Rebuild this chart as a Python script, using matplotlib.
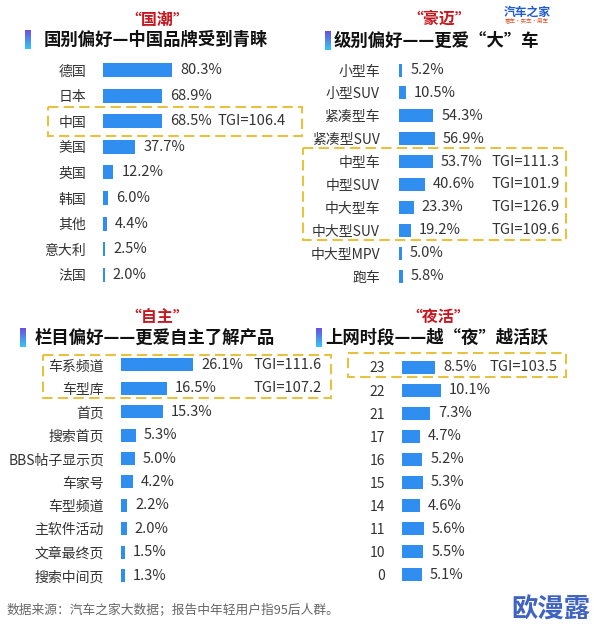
import numpy as np
import matplotlib
matplotlib.use('Agg')
import matplotlib.pyplot as plt
from matplotlib.colors import LinearSegmentedColormap
from matplotlib.patches import Rectangle

plt.rcParams['font.family'] = ['Noto Sans CJK SC', 'DejaVu Sans']

# ---- data ----
p1_cats = ['德国', '日本', '中国', '美国', '英国', '韩国', '其他', '意大利', '法国']
p1_vals = [80.3, 68.9, 68.5, 37.7, 12.2, 6.0, 4.4, 2.5, 2.0]
p1_tgi = {'中国': 106.4}

p2_cats = ['小型车', '小型SUV', '紧凑型车', '紧凑型SUV', '中型车', '中型SUV',
           '中大型车', '中大型SUV', '中大型MPV', '跑车']
p2_vals = [5.2, 10.5, 54.3, 56.9, 53.7, 40.6, 23.3, 19.2, 5.0, 5.8]
p2_tgi = {'中型车': 111.3, '中型SUV': 101.9, '中大型车': 126.9, '中大型SUV': 109.6}

p3_cats = ['车系频道', '车型库', '首页', '搜索首页', 'BBS帖子显示页', '车家号',
           '车型频道', '主软件活动', '文章最终页', '搜索中间页']
p3_vals = [26.1, 16.5, 15.3, 5.3, 5.0, 4.2, 2.2, 2.0, 1.5, 1.3]
p3_tgi = {'车系频道': 111.6, '车型库': 107.2}

p4_cats = ['23', '22', '21', '17', '16', '15', '14', '11', '10', '0']
p4_vals = [8.5, 10.1, 7.3, 4.7, 5.2, 5.3, 4.6, 5.6, 5.5, 5.1]
p4_tgi = {'23': 103.5}

W, H, DPI = 594, 633, 100
BLUE = '#2F8EF0'
TXT = '#333333'
RED = '#C8161D'
GOLD = '#E8C23F'

fig = plt.figure(figsize=(W / DPI, H / DPI), dpi=DPI)
fig.patch.set_facecolor('white')

# overlay in pixel coords for titles / boxes
ov = fig.add_axes([0, 0, 1, 1])
ov.set_axis_off()
acc_cmap = LinearSegmentedColormap.from_list('acc', ['#6B4FE0', '#35C6F5'])


def header(red, title, red_x, red_y, acc_x, title_x, title_y):
    ov.text(red_x, red_y, red, ha='center', va='center', fontsize=11.5,
            fontweight='bold', color=RED)
    ov.imshow(np.linspace(0, 1, 50).reshape(-1, 1), cmap=acc_cmap,
              extent=(acc_x, acc_x + 6, title_y + 9.5, title_y - 9.5), aspect='auto')
    ov.text(title_x, title_y, title, ha='left', va='center', fontsize=12.5,
            fontweight='bold', color='#111111')


def box(x0, y0, x1, y1):
    ov.add_patch(Rectangle((x0, y0), x1 - x0, y1 - y0, fill=False, ec=GOLD,
                           lw=1.5, ls=(0, (5, 2.5))))


def panel(cats, vals, tgis, x0, y0, step, ppp, bar_h, tgi_x, pad_px):
    n = len(cats)
    w = 200
    top = y0 - step / 2
    h = step * n
    ax = fig.add_axes([x0 / W, 1 - (top + h) / H, w / W, h / H])
    ax.set_xlim(0, w / ppp)
    ax.set_ylim(n - 0.5, -0.5)
    ax.barh(range(n), vals, height=bar_h / step, color=BLUE)
    ax.set_yticks(range(n), labels=cats)
    ax.tick_params(axis='y', length=0, pad=pad_px * 72 / DPI, labelsize=10,
                   labelcolor=TXT)
    ax.set_xticks([])
    for s in ax.spines.values():
        s.set_visible(False)
    ax.patch.set_visible(False)
    for i, v in enumerate(vals):
        ax.annotate(f'{v:.1f}%', (v, i), xytext=(8, 0), textcoords='offset pixels',
                    va='center', ha='left', fontsize=10.5, color=TXT)
        if cats[i] in tgis:
            ax.text((tgi_x - x0) / ppp, i, f'TGI={tgis[cats[i]]}', va='center',
                    ha='left', fontsize=10.5, color=TXT)
    return ax


header('“国潮”', '国别偏好—中国品牌受到青睐', 157, 20, 25, 44, 40)
header('“豪迈”', '级别偏好——更爱“大”车', 439, 19, 325, 334, 41)
header('“自主”', '栏目偏好——更爱自主了解产品', 157, 317, 20, 35, 338)
header('“夜活”', '上网时段——越“夜”越活跃', 438, 317, 316, 325, 338)

box(48, 107, 302, 136)
box(303, 148, 566, 240)
box(43, 355, 331, 398)
box(348, 353, 566, 377)

ov.set_xlim(0, W)
ov.set_ylim(H, 0)

panel(p1_cats, p1_vals, p1_tgi, 103, 70, 25.6, 0.86, 14, 218, 17)
panel(p2_cats, p2_vals, p2_tgi, 399, 70, 22.9, 0.63, 13, 491, 19)
panel(p3_cats, p3_vals, p3_tgi, 121, 365, 23.4, 2.76, 13, 253, 17)
panel(p4_cats, p4_vals, p4_tgi, 402, 367, 23.1, 3.88, 13, 490, 17)

# logo, footer, watermark
ov.text(527, 12, '汽车之家', ha='center', va='center', fontsize=8.5,
        fontweight='bold', color='#1F5BD0')
ov.text(527, 21, '看车·买车·用车', ha='center', va='center', fontsize=4,
        color='#E2572B')
ov.text(7, 610, '数据来源：汽车之家大数据；报告中年轻用户指95后人群。', ha='left',
        va='center', fontsize=9.2, color='#666666')
ov.text(590, 610, '欧漫露', ha='right', va='center', fontsize=19,
        fontweight='bold', color='#3F63C2')

fig.savefig('out.png', dpi=DPI)
